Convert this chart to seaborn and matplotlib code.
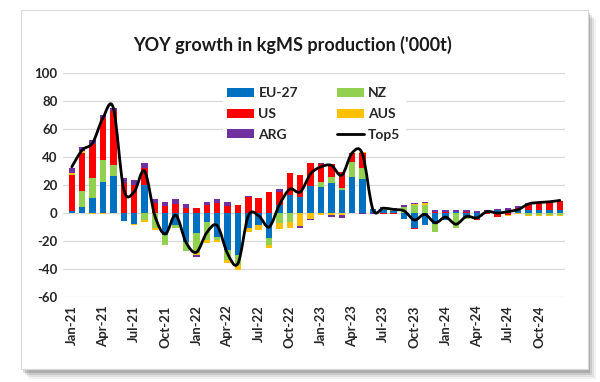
import numpy as np
import pandas as pd
import matplotlib
matplotlib.use("Agg")
import matplotlib.pyplot as plt
import seaborn as sns
from matplotlib.path import Path
from matplotlib.patches import PathPatch, Rectangle

months = list(pd.date_range("2021-01-01", periods=48, freq="MS").strftime("%b-%y"))
tick_labels = ["Jan-21", "Apr-21", "Jul-21", "Oct-21", "Jan-22", "Apr-22", "Jul-22", "Oct-22",
               "Jan-23", "Apr-23", "Jul-23", "Oct-23", "Jan-24", "Apr-24", "Jul-24", "Oct-24"]

eu = [1.5, 4, 11, 22, 26.4, -5.7, -8, 20, 0, -15.7, -8.6, -20.5,
      -14.5, -6.2, -16.9, -26.5, -30, -11, -8.6, -18, 5.5, 12.9, 11.7, 19,
      18.8, 21.7, 16.4, 26, 24.3, 3, 2, 1.5, -4, -11, -8.5, -7.5,
      -5, 1, -3, -4, 1, 2, 2, 2, 2, 2, 2, 2]
nz = [0, 12, 14.3, 16, 8, 0, 0, -5, -11, -7.1, -2.4, -6.4,
      -13.8, -13.1, -2.4, -7, -7, 0, 0, -4.8, -7.4, -6.2, 0, 0,
      3.6, 4.3, 1.2, 10.7, 7.9, 0, 1, 1.5, 4, 5.7, 6, -6,
      0, -10.5, -1, 0, 0.5, 0, 0.5, 0.5, -1.2, -1.2, -1.2, -1.2]
us = [26, 27, 24, 30, 38.6, 21.2, 20, 12, 6.9, 5.2, 6.2, 3.3,
      3.3, 5.7, 6.9, 5, 5.7, 11.7, 10.5, 15.2, 9.5, 15.5, 15.5, 16.5,
      12.6, 9, 11.9, 6, 10.7, 0, -0.7, -1, 0, -0.7, 0, 1,
      1, 0, 0.5, -1, -0.5, -2.6, -1.5, 1, 4.5, 5, 5.5, 6.5]
aus = [1, 1.2, -1, -0.5, 0, 0, -0.8, -1.2, -1, 0, 0, 0,
       -1.7, -2.4, -1.5, -2.5, -3.6, -2.4, -3.6, -2.4, -4.3, -4.8, -9, -4,
       -1.4, -1.4, -1.4, 0, 0.5, 0, 0.5, 0, 0.5, 0.5, 0.8, 0,
       0, 0, 0, 0, 0, -0.5, -0.7, -0.5, -0.8, -0.8, -0.8, -0.8]
arg = [4, 3, 2.6, 2, 1.9, 4, 3.6, 4, 2.9, 2.4, 3.6, 2.9,
       -1.2, 2.4, 2.9, 3, 0, 0.5, 0, 0, 2.4, 0, -1.5, -1,
       1, -1.2, -2.4, 0.5, -0.7, -0.7, 0.5, 0.5, 1, 1.2, 1.4, 1.2,
       1.2, 1.5, 1.5, 1.5, 0.5, 1.2, 1.2, 1.2, 0.4, 0.4, 0.4, 0.4]
top5 = [33, 45, 50, 68, 75, 17, 15, 30, -2, -15, -1.5, -21,
        -28, -14, -9, -29, -36, -2, -2, -10, 6, 17, 15, 28,
        33, 34, 27, 43, 42, 2.5, 3.5, 2.5, 1.5, -5, -1, -7,
        -3, -8, -2.5, -3.5, 1, 0, 1, 2.5, 6.5, 7.5, 8, 9]

series_names = ["EU-27", "NZ", "US", "AUS", "ARG"]
series_vals = [eu, nz, us, aus, arg]
colors = ["#0070C0", "#92D050", "#FF0000", "#FFC000", "#7030A0"]

sns.set_theme(style="white")
plt.rcParams["font.family"] = ["Lato", "DejaVu Sans"]

fig = plt.figure(figsize=(6.0, 3.82), dpi=100)
fig.patch.set_facecolor("white")

# card with soft shadow
for i, a in enumerate([0.05, 0.07, 0.1, 0.14]):
    off = (4 - i) * 0.0035
    fig.patches.append(Rectangle((0.035 + off, 0.03 - off * 1.5), 0.945, 0.94,
                                 transform=fig.transFigure, facecolor="#000000",
                                 alpha=a, edgecolor="none", zorder=0))
fig.patches.append(Rectangle((0.035, 0.035), 0.945, 0.94, transform=fig.transFigure,
                             facecolor="white", edgecolor="#d9d9d9", linewidth=0.8, zorder=1))

ax = fig.add_axes([63 / 600, 1 - 297 / 382, (565 - 63) / 600, (297 - 73) / 382])
ax.set_facecolor("none")
ax.set_zorder(2)

df = pd.DataFrame({n: v for n, v in zip(series_names, series_vals)})
df["month"] = months
x = np.arange(len(months))
pos_bottom = np.zeros(len(x))
neg_bottom = np.zeros(len(x))
handles = {}
for name, col in zip(series_names, colors):
    v = df[name].to_numpy(dtype=float)
    pos = np.where(v > 0, v, 0)
    neg = np.where(v < 0, v, 0)
    b1 = ax.bar(x, pos, bottom=pos_bottom, width=0.62, color=col, zorder=3, linewidth=0)
    ax.bar(x, neg, bottom=neg_bottom, width=0.62, color=col, zorder=3, linewidth=0)
    pos_bottom += pos
    neg_bottom += neg
    handles[name] = b1

# smoothed Top5 line (cubic Bezier through every data point)
pts = np.column_stack([x, np.asarray(top5, dtype=float)])
ext = np.vstack([pts[0], pts, pts[-1]])
verts = [tuple(pts[0])]
codes = [Path.MOVETO]
for i in range(len(pts) - 1):
    p0, p1, p2, p3 = ext[i], ext[i + 1], ext[i + 2], ext[i + 3]
    c1 = p1 + (p2 - p0) / 6.0
    c2 = p2 - (p3 - p1) / 6.0
    verts += [tuple(c1), tuple(c2), tuple(p2)]
    codes += [Path.CURVE4] * 3
line_patch = PathPatch(Path(verts, codes), facecolor="none", edgecolor="black",
                       linewidth=2.0, zorder=5, capstyle="round", joinstyle="round")
ax.add_patch(line_patch)
line_handle = plt.Line2D([], [], color="black", linewidth=2.0)

ax.set_xlim(-0.85, 47.5)
ax.set_ylim(-60, 100)
ax.set_yticks(np.arange(-60, 101, 20))
ax.set_yticklabels([str(int(t)) for t in np.arange(-60, 101, 20)], fontsize=9.5, fontweight="bold")
tick_pos = [months.index(t) for t in tick_labels]
ax.set_xticks(tick_pos)
ax.set_xticklabels(tick_labels, rotation=90, fontsize=9.5, fontweight="bold")
ax.tick_params(axis="both", length=0, pad=4)
ax.tick_params(axis="x", pad=6)
ax.yaxis.grid(True, color="#d9d9d9", linewidth=0.9, zorder=0)
ax.set_axisbelow(True)
for s in ax.spines.values():
    s.set_visible(False)

leg = ax.legend([handles["EU-27"], handles["US"], handles["ARG"],
                 handles["NZ"], handles["AUS"], line_handle],
                ["EU-27", "US", "ARG", "NZ", "AUS", "Top5"],
                ncol=2, loc="upper left", bbox_to_anchor=(0.305, 0.985),
                frameon=True, fancybox=False, framealpha=1, edgecolor="white",
                facecolor="white", prop={"weight": "bold", "size": 10},
                handlelength=1.95, handleheight=0.65, columnspacing=2.8,
                labelspacing=0.62, borderpad=0.3, handletextpad=0.3)
leg.set_zorder(4)

fig.text(0.487, 0.882, "YOY growth in kgMS production ('000t)", ha="center", va="center",
         fontsize=13, fontweight="bold", color="#1a1a1a")

fig.savefig("out.png", dpi=100, facecolor="white")
